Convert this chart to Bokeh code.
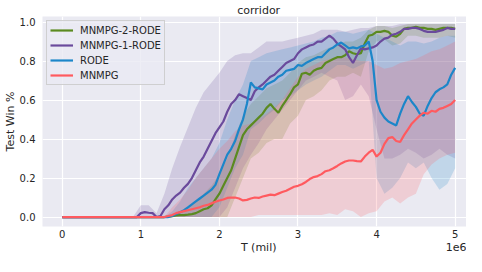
import numpy as np
from bokeh.plotting import figure
from bokeh.models import Range1d, Legend, LegendItem, FixedTicker, PrintfTickFormatter, LinearAxis
from bokeh.embed import file_html
from bokeh.resources import INLINE

# ---------------- data ----------------
title_text = "corridor"
x_label = "T (mil)"
y_label = "Test Win %"
x_ticks = [0, 1, 2, 3, 4, 5]
y_ticks = [0.0, 0.2, 0.4, 0.6, 0.8, 1.0]
offset_text = "1e6"
series_names = ["MNMPG-2-RODE", "MNMPG-1-RODE", "RODE", "MNMPG"]
series_colors = ["#5b8a20", "#6a4a9c", "#1c86c9", "#ff5a5f"]

mean_step = 0.05   # mean curves sampled every 0.05 mil
band_step = 0.1    # std bands sampled every 0.1 mil

green_mean = [
    0, 0, 0, 0, 0, 0, 0, 0, 0, 0, 0, 0, 0, 0, 0, 0, 0, 0, 0, 0,
    0, 0, 0, 0, 0, 0, 0, 0.002, 0.005, 0.008, 0.01, 0.01, 0.012, 0.015, 0.02, 0.03, 0.04, 0.045, 0.06, 0.09,
    0.12, 0.16, 0.2, 0.24, 0.3, 0.36, 0.42, 0.45, 0.47, 0.49, 0.51, 0.53, 0.56, 0.58, 0.555, 0.535, 0.57, 0.6, 0.63, 0.665,
    0.68, 0.735, 0.74, 0.73, 0.75, 0.76, 0.765, 0.79, 0.80, 0.81, 0.82, 0.82, 0.83, 0.85, 0.84, 0.835, 0.84, 0.89, 0.93, 0.935,
    0.95, 0.95, 0.955, 0.95, 0.93, 0.925, 0.94, 0.965, 0.97, 0.97, 0.975, 0.97, 0.97, 0.965, 0.965, 0.96, 0.965, 0.97, 0.97, 0.97,
    0.965]
purple_mean = [
    0, 0, 0, 0, 0, 0, 0, 0, 0, 0, 0, 0, 0, 0, 0, 0, 0, 0, 0, 0,
    0.02, 0.025, 0.022, 0.02, 0.0, 0.005, 0.04, 0.06, 0.09, 0.11, 0.125, 0.15, 0.17, 0.2, 0.24, 0.28, 0.31, 0.35, 0.39, 0.43,
    0.46, 0.49, 0.54, 0.58, 0.6, 0.63, 0.62, 0.61, 0.6, 0.645, 0.665, 0.68, 0.70, 0.72, 0.73, 0.75, 0.77, 0.79, 0.80, 0.81,
    0.84, 0.86, 0.87, 0.88, 0.885, 0.90, 0.90, 0.915, 0.93, 0.915, 0.89, 0.875, 0.86, 0.82, 0.79, 0.83, 0.865, 0.86, 0.865, 0.87,
    0.88, 0.90, 0.915, 0.92, 0.935, 0.94, 0.95, 0.965, 0.965, 0.97, 0.97, 0.965, 0.955, 0.95, 0.95, 0.95, 0.955, 0.96, 0.97, 0.965,
    0.965]
blue_mean = [
    0, 0, 0, 0, 0, 0, 0, 0, 0, 0, 0, 0, 0, 0, 0, 0, 0, 0, 0, 0,
    0, 0, 0, 0, 0, 0, 0, 0, 0.005, 0.015, 0.025, 0.035, 0.05, 0.065, 0.08, 0.095, 0.11, 0.125, 0.14, 0.165,
    0.22, 0.27, 0.32, 0.35, 0.39, 0.45, 0.5, 0.58, 0.69, 0.665, 0.66, 0.655, 0.68, 0.69, 0.70, 0.72, 0.73, 0.75, 0.755, 0.76,
    0.78, 0.775, 0.79, 0.80, 0.81, 0.82, 0.82, 0.84, 0.86, 0.87, 0.885, 0.895, 0.88, 0.865, 0.87, 0.865, 0.875, 0.88, 0.90, 0.80,
    0.6, 0.54, 0.51, 0.49, 0.48, 0.47, 0.53, 0.58, 0.62, 0.59, 0.565, 0.53, 0.52, 0.57, 0.61, 0.64, 0.655, 0.665, 0.68, 0.73,
    0.765]
red_mean = [
    0, 0, 0, 0, 0, 0, 0, 0, 0, 0, 0, 0, 0, 0, 0, 0, 0, 0, 0, 0,
    0, 0, 0, 0, 0, 0, 0, 0.005, 0.01, 0.02, 0.025, 0.03, 0.035, 0.04, 0.045, 0.05, 0.058, 0.062, 0.07, 0.078,
    0.085, 0.09, 0.098, 0.10, 0.10, 0.095, 0.085, 0.088, 0.095, 0.10, 0.098, 0.105, 0.11, 0.115, 0.112, 0.12, 0.128, 0.135, 0.145, 0.155,
    0.16, 0.168, 0.18, 0.195, 0.205, 0.21, 0.22, 0.235, 0.24, 0.25, 0.262, 0.275, 0.285, 0.29, 0.29, 0.287, 0.285, 0.31, 0.33, 0.345,
    0.31, 0.33, 0.375, 0.405, 0.41, 0.39, 0.385, 0.42, 0.45, 0.48, 0.50, 0.52, 0.535, 0.53, 0.545, 0.54, 0.555, 0.56, 0.57, 0.58,
    0.60]

green_lo = [0, 0, 0, 0, 0, 0, 0, 0, 0, 0,
            0, 0, 0, 0, 0, 0, 0, 0, 0, 0,
            0, 0, 0.1, 0.2, 0.3, 0.33, 0.38, 0.4, 0.4, 0.48,
            0.52, 0.6, 0.62, 0.65, 0.7, 0.72, 0.72, 0.74, 0.72, 0.85,
            0.9, 0.91, 0.88, 0.89, 0.93, 0.93, 0.92, 0.92, 0.92, 0.93,
            0.92]
green_hi = [0, 0, 0, 0, 0, 0, 0, 0, 0, 0,
            0, 0, 0, 0, 0.01, 0.03, 0.05, 0.08, 0.12, 0.16,
            0.22, 0.3, 0.42, 0.52, 0.58, 0.62, 0.66, 0.68, 0.7, 0.74,
            0.79, 0.82, 0.83, 0.85, 0.87, 0.88, 0.9, 0.9, 0.92, 0.96,
            0.98, 0.98, 0.97, 0.98, 0.99, 0.99, 0.99, 0.99, 0.99, 0.99,
            0.99]
purple_lo = [0, 0, 0, 0, 0, 0, 0, 0, 0, 0,
             0, 0, 0, 0, 0, 0, 0, 0, 0, 0,
             0, 0.05, 0.15, 0.25, 0.32, 0.38, 0.45, 0.5, 0.55, 0.6,
             0.65, 0.7, 0.72, 0.74, 0.72, 0.7, 0.6, 0.62, 0.68, 0.62,
             0.45, 0.3, 0.3, 0.32, 0.35, 0.33, 0.3, 0.32, 0.35, 0.32,
             0.3]
purple_hi = [0, 0, 0, 0, 0, 0, 0, 0, 0, 0,
             0.06, 0.06, 0.02, 0.12, 0.25, 0.36, 0.46, 0.56, 0.64, 0.69,
             0.74, 0.8, 0.83, 0.84, 0.84, 0.87, 0.9, 0.9, 0.9, 0.91,
             0.92, 0.93, 0.94, 0.96, 0.96, 0.96, 0.95, 0.96, 0.97, 0.97,
             0.98, 0.98, 0.98, 0.99, 0.99, 0.99, 0.99, 0.99, 0.99, 0.99,
             0.99]
blue_lo = [0, 0, 0, 0, 0, 0, 0, 0, 0, 0,
           0, 0, 0, 0, 0, 0, 0, 0, 0, 0,
           0.05, 0.15, 0.25, 0.32, 0.45, 0.48, 0.52, 0.55, 0.6, 0.62,
           0.65, 0.68, 0.7, 0.72, 0.75, 0.78, 0.78, 0.76, 0.78, 0.8,
           0.2, 0.12, 0.15, 0.2, 0.28, 0.25, 0.28, 0.2, 0.14, 0.17,
           0.25]
blue_hi = [0, 0, 0, 0, 0, 0, 0, 0, 0, 0,
           0, 0, 0, 0, 0.03, 0.08, 0.15, 0.2, 0.25, 0.3,
           0.38, 0.5, 0.6, 0.68, 0.8, 0.82, 0.84, 0.85, 0.86, 0.87,
           0.88, 0.89, 0.9, 0.92, 0.93, 0.95, 0.95, 0.94, 0.95, 0.96,
           0.94, 0.92, 0.9, 0.88, 0.9, 0.9, 0.89, 0.9, 0.92, 0.93,
           0.93]
red_lo = [0, 0, 0, 0, 0, 0, 0, 0, 0, 0,
          0, 0, 0, 0, 0, 0, 0, 0, 0, 0,
          0, 0, 0, 0, 0, 0.01, 0.01, 0.01, 0.01, 0.01,
          0.01, 0.01, 0.01, 0.01, 0.02, 0.01, 0.04, 0.03, 0.0, 0.02,
          0.03, 0.08, 0.1, 0.07, 0.1, 0.12, 0.22, 0.27, 0.3, 0.32,
          0.33]
red_hi = [0, 0, 0, 0, 0, 0, 0, 0, 0, 0,
          0, 0, 0, 0, 0.05, 0.09, 0.14, 0.2, 0.25, 0.3,
          0.35, 0.39, 0.44, 0.47, 0.48, 0.5, 0.53, 0.56, 0.6, 0.66,
          0.72, 0.76, 0.78, 0.8, 0.81, 0.82, 0.82, 0.81, 0.8, 0.8,
          0.78, 0.76, 0.77, 0.79, 0.8, 0.81, 0.83, 0.85, 0.86, 0.88,
          0.9]

means = [green_mean, purple_mean, blue_mean, red_mean]
lows = [green_lo, purple_lo, blue_lo, red_lo]
highs = [green_hi, purple_hi, blue_hi, red_hi]

# ---------------- layout (pixels) ----------------
FIG_W, FIG_H = 466, 256
BL, BR, BT, BB = 36, 0, 13, 28
frame_l, frame_r = 8 + BL, 8 + FIG_W - BR
frame_t, frame_b = 8 + BT, 8 + FIG_H - BB
px_x0, px_per_x = 64.0, 79.7       # pixel of x=0 and pixels per unit
px_y0, px_per_y = 226.3, 199.6     # pixel of y=0 and pixels per unit
x_start = (frame_l - px_x0) / px_per_x
x_end = (frame_r - px_x0) / px_per_x
y_end = (px_y0 - frame_t) / px_per_y
y_start = (px_y0 - frame_b) / px_per_y

FONT = "DejaVu Sans"
TXT = "#262626"

p = figure(width=FIG_W, height=FIG_H, output_backend="svg", toolbar_location=None,
           x_range=Range1d(x_start, x_end), y_range=Range1d(y_start, y_end),
           min_border_left=BL, min_border_right=BR, min_border_top=BT, min_border_bottom=BB)
p.background_fill_color = "#EAEAF2"
p.border_fill_color = "white"
p.outline_line_color = None


def style_axis(ax, size):
    ax.axis_line_color = None
    ax.major_tick_line_color = None
    ax.minor_tick_line_color = None
    ax.major_tick_out = 0
    ax.major_tick_in = 0
    ax.minor_tick_out = 0
    ax.minor_tick_in = 0
    ax.major_label_text_font = FONT
    ax.major_label_text_font_size = size
    ax.major_label_text_color = TXT
    ax.axis_label_text_font = FONT
    ax.axis_label_text_font_size = "11px"
    ax.axis_label_text_font_style = "normal"
    ax.axis_label_text_color = TXT


p.xaxis.ticker = FixedTicker(ticks=x_ticks)
p.yaxis.ticker = FixedTicker(ticks=y_ticks)
p.yaxis.formatter = PrintfTickFormatter(format="%.1f")
p.yaxis.axis_label = y_label
style_axis(p.xaxis[0], "10px")
style_axis(p.yaxis[0], "10px")
p.xaxis.major_label_standoff = 3
p.yaxis.major_label_standoff = 7
p.yaxis.axis_label_standoff = 0

# x-axis label and offset text "1e6" as labels of a second bottom axis
x_mid = (x_ticks[0] + x_ticks[-1]) / 2
x_off = (frame_r - 10 - px_x0) / px_per_x   # offset text sits at the right end
lab_axis = LinearAxis(ticker=FixedTicker(ticks=[x_mid, x_off]),
                      major_label_overrides={x_mid: x_label, x_off: offset_text},
                      major_label_standoff=0)
style_axis(lab_axis, "11px")
p.add_layout(lab_axis, "below")

# title as a label of a top axis, centred over the data
title_axis = LinearAxis(ticker=FixedTicker(ticks=[x_mid]),
                        major_label_overrides={x_mid: title_text},
                        major_label_standoff=0)
style_axis(title_axis, "11px")
p.add_layout(title_axis, "above")

p.grid.grid_line_color = "white"
p.grid.grid_line_width = 1.2

for lo, hi, c in zip(lows, highs, series_colors):
    xb = np.arange(len(lo)) * band_step
    p.varea(x=xb, y1=lo, y2=hi, fill_color=c, fill_alpha=0.2)

line_renderers = []
for m, c in zip(means, series_colors):
    xm = np.arange(len(m)) * mean_step
    line_renderers.append(p.line(xm, m, line_color=c, line_width=2.2))

items = [LegendItem(label=n, renderers=[r]) for n, r in zip(series_names, line_renderers)]
legend = Legend(items=items, location="top_left", margin=4, padding=3, spacing=3,
                label_height=12, glyph_height=12, glyph_width=23, label_standoff=7,
                label_text_font=FONT, label_text_font_size="10px", label_text_color=TXT,
                background_fill_color="#EAEAF2", background_fill_alpha=0.8,
                border_line_color="#cccccc", border_line_alpha=0.9, border_line_width=1)
p.add_layout(legend)

open("out.html", "w").write(file_html(p, INLINE))
